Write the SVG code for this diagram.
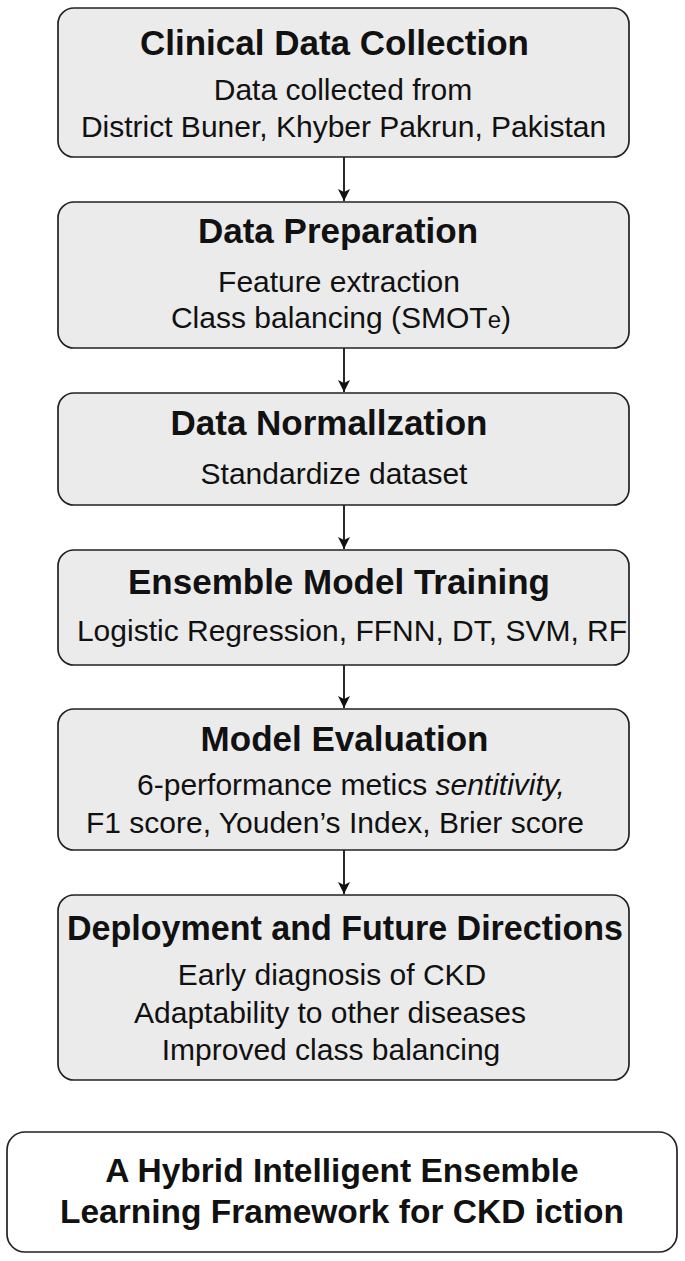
<svg xmlns="http://www.w3.org/2000/svg" width="685" height="1261" viewBox="0 0 685 1261">
<defs>
<style>
.box{fill:#ebebeb;stroke:#222;stroke-width:1.7}
.wbox{fill:#ffffff;stroke:#222;stroke-width:1.7}
.t{font-family:"Liberation Sans",Arial,Helvetica,sans-serif;font-weight:bold;font-size:35px;fill:#111;text-anchor:middle}
.b{font-family:"Liberation Sans",Arial,Helvetica,sans-serif;font-size:30px;fill:#111;text-anchor:middle}
.bt{font-family:"Liberation Sans",Arial,Helvetica,sans-serif;font-weight:bold;font-size:33.5px;fill:#111;text-anchor:middle}
.c{stroke:#111;stroke-width:1.8;fill:none}
</style>
<marker id="ah" markerWidth="12" markerHeight="14" viewBox="0 0 12 14" refX="12" refY="7" orient="auto" markerUnits="userSpaceOnUse">
<path d="M0,1 L12,7 L0,13 L3,7 Z" fill="#111"/>
</marker>
</defs>
<rect width="685" height="1261" fill="#ffffff"/>
<g id="connectors">
<line class="c" x1="344" y1="157" x2="344" y2="201" marker-end="url(#ah)"/>
<line class="c" x1="344" y1="348" x2="344" y2="392" marker-end="url(#ah)"/>
<line class="c" x1="344" y1="505" x2="344" y2="549" marker-end="url(#ah)"/>
<line class="c" x1="344" y1="665" x2="344" y2="708" marker-end="url(#ah)"/>
<line class="c" x1="344" y1="850" x2="344" y2="894" marker-end="url(#ah)"/>
</g>
<g id="node-collection">
<rect class="box" x="58" y="8" width="571" height="149" rx="16"/>
<text class="t" x="334.5" y="55">Clinical Data Collection</text>
<text class="b" x="343" y="100">Data collected from</text>
<text class="b" x="343.5" y="137">District Buner, Khyber Pakrun, Pakistan</text>
</g>
<g id="node-preparation">
<rect class="box" x="58" y="202" width="571" height="146" rx="16"/>
<text class="t" x="338" y="243">Data Preparation</text>
<text class="b" x="339" y="292">Feature extraction</text>
<text class="b" x="341" y="328">Class balancing (SMOT<tspan font-size="24">e</tspan>)</text>
</g>
<g id="node-normalization">
<rect class="box" x="58" y="393" width="571" height="112" rx="16"/>
<text class="t" x="329" y="435">Data Normallzation</text>
<text class="b" x="334" y="484">Standardize dataset</text>
</g>
<g id="node-training">
<rect class="box" x="58" y="550" width="571" height="115" rx="16"/>
<text class="t" x="339" y="594">Ensemble Model Training</text>
<text class="b" x="352" y="641">Logistic Regression, FFNN, DT, SVM, RF</text>
</g>
<g id="node-evaluation">
<rect class="box" x="58" y="709" width="571" height="141" rx="16"/>
<text class="t" x="344.5" y="751">Model Evaluation</text>
<text class="b" x="351" y="795">6-performance metics <tspan font-style="italic">sentitivity,</tspan></text>
<text class="b" x="335" y="833">F1 score, Youden’s Index, Brier score</text>
</g>
<g id="node-deployment">
<rect class="box" x="58" y="895" width="571" height="185" rx="16"/>
<text class="t" x="345" y="940" textLength="556" lengthAdjust="spacingAndGlyphs">Deployment and Future Directions</text>
<text class="b" x="332" y="985">Early diagnosis of CKD</text>
<text class="b" x="330" y="1023">Adaptability to other diseases</text>
<text class="b" x="331" y="1060">Improved class balancing</text>
</g>
<g id="node-title">
<rect class="wbox" x="7" y="1132" width="670" height="120" rx="18"/>
<text class="bt" x="342" y="1182">A Hybrid Intelligent Ensemble</text>
<text class="bt" x="342" y="1223">Learning Framework for CKD iction</text>
</g>
</svg>
